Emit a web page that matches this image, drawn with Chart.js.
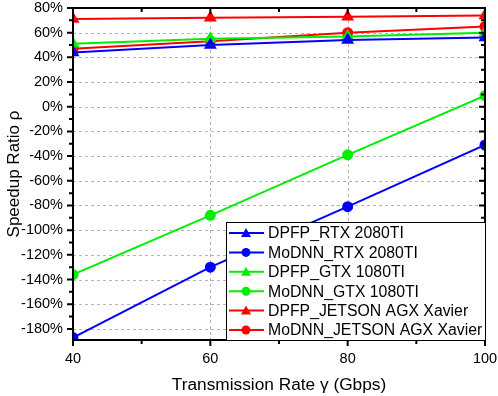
<!DOCTYPE html>
<html>
<head>
<meta charset="utf-8">
<script src="https://cdn.jsdelivr.net/npm/chart.js@4/dist/chart.umd.min.js"></script>
<style>
  html, body { margin: 0; padding: 0; background: #fff; }
  #wrap { width: 498px; height: 396px; position: relative; }
</style>
</head>
<body>
<div id="wrap"><canvas id="speedup"></canvas></div>
<script>
// transmission rates (Gbps)
const rates = [40, 60, 80, 100];

// speedup ratio in %
const dpfpRtx = [44, 50, 54, 56];
const modnnRtx = [-187, -130, -81, -31];
const dpfpGtx = [51, 55, 57, 60];
const modnnGtx = [-136, -88, -39, 9];
const dpfpJetson = [71, 72, 73, 74];
const modnnJetson = [47, 53, 60, 65];

const seriesNames = [
  'DPFP_RTX 2080TI', 'MoDNN_RTX 2080TI',
  'DPFP_GTX 1080TI', 'MoDNN_GTX 1080TI',
  'DPFP_JETSON AGX Xavier', 'MoDNN_JETSON AGX Xavier'
];

const FONT = '"Liberation Sans", Arial, Helvetica, sans-serif';

function makeSet(name, values, color, shape) {
  return {
    label: name,
    data: rates.map((r, i) => ({ x: r, y: values[i] })),
    borderColor: color,
    backgroundColor: color,
    borderWidth: 2,
    pointStyle: shape,
    pointRadius: shape === 'triangle' ? 5.5 : 4.5,
    pointHoverRadius: 5,
    tension: 0
  };
}

const datasets = [
  makeSet(seriesNames[0], dpfpRtx, '#0000ff', 'triangle'),
  makeSet(seriesNames[1], modnnRtx, '#0000ff', 'circle'),
  makeSet(seriesNames[2], dpfpGtx, '#00ee00', 'triangle'),
  makeSet(seriesNames[3], modnnGtx, '#00ee00', 'circle'),
  makeSet(seriesNames[4], dpfpJetson, '#ff0000', 'triangle'),
  makeSet(seriesNames[5], modnnJetson, '#ff0000', 'circle')
];

// grid, frame, tick marks and the boxed legend inside the plot
const framePlugin = {
  id: 'frame',
  beforeDatasetsDraw(chart) {
    const { ctx, chartArea: a, scales } = chart;
    ctx.save();
    ctx.strokeStyle = '#b4b4b4';
    ctx.lineWidth = 1;
    ctx.setLineDash([3, 3]);
    for (let v = -180; v < 80; v += 20) {
      const y = Math.round(scales.y.getPixelForValue(v)) + 0.5;
      ctx.beginPath(); ctx.moveTo(a.left, y); ctx.lineTo(a.right, y); ctx.stroke();
    }
    [60, 80].forEach(v => {
      const x = Math.round(scales.x.getPixelForValue(v)) + 0.5;
      ctx.beginPath(); ctx.moveTo(x, a.top); ctx.lineTo(x, a.bottom); ctx.stroke();
    });
    ctx.restore();
  },
  afterDraw(chart) {
    const { ctx, chartArea: a, scales } = chart;
    ctx.save();
    ctx.strokeStyle = '#000';
    ctx.lineWidth = 2;
    ctx.setLineDash([]);
    ctx.strokeRect(a.left, a.top, a.right - a.left, a.bottom - a.top);

    // y ticks: outward on left, inward on right
    for (let v = -180; v <= 80; v += 10) {
      const y = scales.y.getPixelForValue(v);
      const len = v % 20 === 0 ? 6 : 4;
      ctx.beginPath();
      ctx.moveTo(a.left - len, y); ctx.lineTo(a.left, y);
      ctx.moveTo(a.right, y); ctx.lineTo(a.right - len, y);
      ctx.stroke();
    }
    // x ticks: outward on bottom, inward on top
    for (let v = 40; v <= 100; v += 10) {
      const x = scales.x.getPixelForValue(v);
      const len = v % 20 === 0 ? 6 : 4;
      ctx.beginPath();
      ctx.moveTo(x, a.bottom); ctx.lineTo(x, a.bottom + len);
      ctx.moveTo(x, a.top); ctx.lineTo(x, a.top + len);
      ctx.stroke();
    }

    // legend box
    const bx = 226, by = 222, bw = a.right - bx, bh = a.bottom - by;
    ctx.fillStyle = '#fff';
    ctx.fillRect(bx, by, bw, bh);
    ctx.lineWidth = 1;
    ctx.strokeStyle = '#000';
    ctx.strokeRect(bx + 0.5, by + 0.5, bw, bh);
    ctx.font = '15.8px ' + FONT;
    ctx.textBaseline = 'middle';
    chart.data.datasets.forEach((ds, i) => {
      const y = by + 11 + i * 19.4;
      ctx.strokeStyle = ds.borderColor;
      ctx.fillStyle = ds.borderColor;
      ctx.lineWidth = 2;
      ctx.beginPath(); ctx.moveTo(bx + 3, y); ctx.lineTo(bx + 38, y); ctx.stroke();
      const cx = bx + 20;
      ctx.beginPath();
      if (ds.pointStyle === 'triangle') {
        ctx.moveTo(cx, y - 5); ctx.lineTo(cx + 5, y + 4); ctx.lineTo(cx - 5, y + 4);
        ctx.closePath();
      } else {
        ctx.arc(cx, y, 4.5, 0, Math.PI * 2);
      }
      ctx.fill();
      ctx.fillStyle = '#000';
      ctx.fillText(ds.label, bx + 42, y + 1);
    });
    ctx.restore();
  }
};

new Chart(document.getElementById('speedup'), {
  type: 'line',
  data: { datasets },
  options: {
    responsive: true,
    maintainAspectRatio: false,
    animation: false,
    layout: { padding: { top: 8, right: 13, left: 0, bottom: 0 } },
    plugins: { legend: { display: false }, tooltip: { enabled: false } },
    scales: {
      x: {
        type: 'linear',
        min: 40, max: 100,
        afterFit(scale) {
          scale.height = 56;
          scale.paddingLeft = 0;
          scale.paddingRight = 0;
        },
        grid: { display: false, drawTicks: false },
        border: { display: false },
        ticks: {
          stepSize: 20,
          padding: 10,
          color: '#000',
          font: { family: FONT, size: 14.5 }
        },
        title: {
          display: true,
          text: 'Transmission Rate γ (Gbps)',
          color: '#000',
          font: { family: FONT, size: 17.3 },
          padding: { top: 4, bottom: 0 }
        }
      },
      y: {
        min: -189, max: 80,
        afterFit(scale) {
          scale.width = 73;
          scale.paddingTop = 0;
          scale.paddingBottom = 0;
        },
        afterBuildTicks(scale) {
          const t = [];
          for (let v = -180; v <= 80; v += 20) t.push({ value: v });
          scale.ticks = t;
        },
        grid: { display: false, drawTicks: false },
        border: { display: false },
        ticks: {
          padding: 10,
          color: '#000',
          font: { family: FONT, size: 14.5 },
          callback: v => v + '%'
        },
        title: {
          display: true,
          text: 'Speedup Ratio ρ',
          color: '#000',
          font: { family: FONT, size: 17 },
          padding: { bottom: 0 }
        }
      }
    }
  },
  plugins: [framePlugin]
});
</script>
</body>
</html>
